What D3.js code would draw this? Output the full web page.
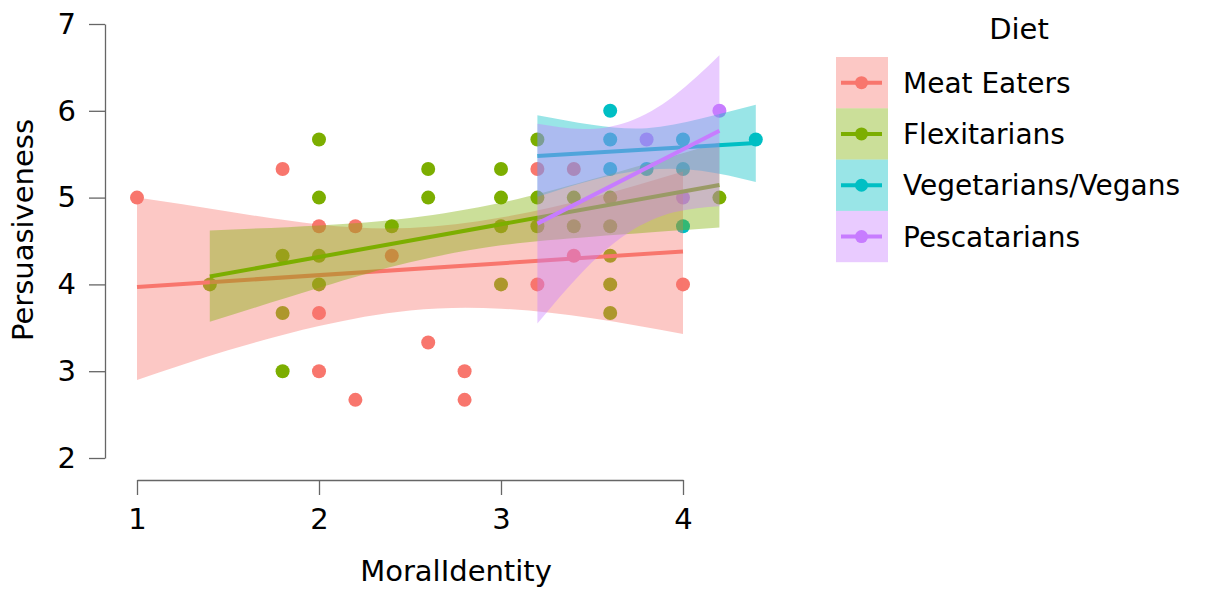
<!DOCTYPE html>
<html>
<head>
<meta charset="utf-8">
<script src="https://cdn.jsdelivr.net/npm/d3@7"></script>
<style>
  body { margin: 0; background: #fff; }
  text { font-family: "DejaVu Sans", sans-serif; fill: #000; }
</style>
</head>
<body>
<div id="chart"></div>
<script>
// Groups and colours
const diets = ["Meat Eaters", "Flexitarians", "Vegetarians/Vegans", "Pescatarians"];
const colors = ["#F8766D", "#7CAE00", "#00BFC4", "#C77CFF"];

// Observed points (MoralIdentity, Persuasiveness), one pair of arrays per diet
const meatX = [1, 1.8, 2, 2.2, 2.4, 2, 2, 2.2, 2.6, 2.8, 2.8, 3.2, 3.4, 3.2, 4, 3.4];
const meatY = [5, 5.33, 4.67, 4.67, 4.33, 3.67, 3, 2.67, 3.33, 3, 2.67, 5.33, 5.33, 4, 4, 4.33];
const flexX = [2, 2, 2.4, 1.8, 2, 1.4, 2, 1.8, 1.8, 3.2, 2.6, 3, 2.6, 3, 3.2, 3.4, 3, 3.2, 3.4, 3, 3.6, 3.6, 3.6, 3.6, 3.6, 4.2];
const flexY = [5.67, 5, 4.67, 4.33, 4.33, 4, 4, 3.67, 3, 5.67, 5.33, 5.33, 5, 5, 5, 5, 4.67, 4.67, 4.67, 4, 5, 4.67, 4.33, 4, 3.67, 5];
const vegX = [3.6, 3.6, 4, 4.4, 3.6, 3.8, 4, 4];
const vegY = [6, 5.67, 5.67, 5.67, 5.33, 5.33, 5.33, 4.67];
const pescX = [4.2, 3.8, 4];
const pescY = [6, 5.67, 5];

// Fitted lines (start and end)
const fitX = [[1, 4], [1.4, 4.2], [3.2, 4.4], [3.2, 4.2]];
const fitY = [[3.97, 4.38], [4.09, 5.145], [5.48, 5.63], [4.70, 5.77]];

// Confidence bands
const bandX = [
  [1, 1.5, 2, 2.5, 3, 3.5, 4],
  [1.4, 2, 2.5, 3, 3.5, 4.2],
  [3.2, 3.5, 3.8, 4.1, 4.4],
  [3.2, 3.45, 3.7, 3.95, 4.2]
];
const bandLo = [
  [2.90, 3.24, 3.52, 3.70, 3.72, 3.61, 3.43],
  [3.57, 3.96, 4.255, 4.45, 4.55, 4.655],
  [5.01, 5.20, 5.32, 5.31, 5.18],
  [3.55, 4.15, 4.595, 4.83, 4.90]
];
const bandHi = [
  [5.00, 4.84, 4.69, 4.65, 4.77, 5.00, 5.30],
  [4.62, 4.68, 4.765, 4.94, 5.21, 5.635],
  [5.95, 5.84, 5.80, 5.91, 6.07],
  [5.85, 5.79, 5.875, 6.17, 6.64]
];

const xTicks = [1, 2, 3, 4];
const yTicks = [2, 3, 4, 5, 6, 7];

const pointsX = [meatX, flexX, vegX, pescX];
const pointsY = [meatY, flexY, vegY, pescY];

const width = 1213, height = 593;
const svg = d3.select("#chart").append("svg")
  .attr("width", width)
  .attr("height", height);

const x = d3.scaleLinear().domain([1, 4]).range([137, 683]);
const y = d3.scaleLinear().domain([2, 7]).range([458, 24]);

// Y axis
const yAxis = svg.append("g")
  .attr("transform", "translate(105,0)")
  .call(d3.axisLeft(y).tickValues(yTicks).tickFormat(d3.format("d"))
    .tickSize(16).tickSizeOuter(0).tickPadding(13));
// X axis
const xAxis = svg.append("g")
  .attr("transform", "translate(0,480)")
  .call(d3.axisBottom(x).tickValues(xTicks).tickFormat(d3.format("d"))
    .tickSize(15).tickSizeOuter(0).tickPadding(13));

[yAxis, xAxis].forEach(g => {
  g.select(".domain").attr("stroke", "#666").attr("stroke-width", 1.3);
  g.selectAll(".tick line").attr("stroke", "#666").attr("stroke-width", 1.3);
  g.selectAll(".tick text").style("font-size", "29px").attr("fill", "#000");
});

// Axis titles
svg.append("text")
  .attr("x", 456).attr("y", 581)
  .attr("text-anchor", "middle")
  .style("font-size", "29px")
  .text("MoralIdentity");
svg.append("text")
  .attr("transform", "translate(33,230) rotate(-90)")
  .attr("text-anchor", "middle")
  .style("font-size", "29px")
  .text("Persuasiveness");

// Points first, bands and lines drawn over them
const pts = svg.append("g");
diets.forEach((d, i) => {
  pts.selectAll(null)
    .data(d3.zip(pointsX[i], pointsY[i]))
    .join("circle")
    .attr("cx", p => x(p[0]))
    .attr("cy", p => y(p[1]))
    .attr("r", 7)
    .attr("fill", colors[i]);
});

const area = d3.area()
  .x(p => x(p[0]))
  .y0(p => y(p[1]))
  .y1(p => y(p[2]))
  .curve(d3.curveNatural);
const line = d3.line()
  .x(p => x(p[0]))
  .y(p => y(p[1]));

diets.forEach((d, i) => {
  svg.append("path")
    .datum(d3.zip(bandX[i], bandLo[i], bandHi[i]))
    .attr("d", area)
    .attr("fill", colors[i])
    .attr("fill-opacity", 0.4);
  svg.append("path")
    .datum(d3.zip(fitX[i], fitY[i]))
    .attr("d", line)
    .attr("stroke", colors[i])
    .attr("stroke-width", 4)
    .attr("fill", "none");
});

// Legend
const legend = svg.append("g");
legend.append("text")
  .attr("x", 1019).attr("y", 39)
  .attr("text-anchor", "middle")
  .style("font-size", "29px")
  .text("Diet");

const rowH = 51.3;
diets.forEach((d, i) => {
  const top = 57 + i * rowH, mid = top + rowH / 2;
  legend.append("rect")
    .attr("x", 836).attr("y", top)
    .attr("width", 52).attr("height", rowH)
    .attr("fill", colors[i]).attr("fill-opacity", 0.4);
  legend.append("line")
    .attr("x1", 841).attr("x2", 882)
    .attr("y1", mid).attr("y2", mid)
    .attr("stroke", colors[i]).attr("stroke-width", 4);
  legend.append("circle")
    .attr("cx", 861.5).attr("cy", mid).attr("r", 6.5)
    .attr("fill", colors[i]);
  legend.append("text")
    .attr("x", 903).attr("y", mid + 10)
    .style("font-size", "28px")
    .text(d);
});
</script>
</body>
</html>
